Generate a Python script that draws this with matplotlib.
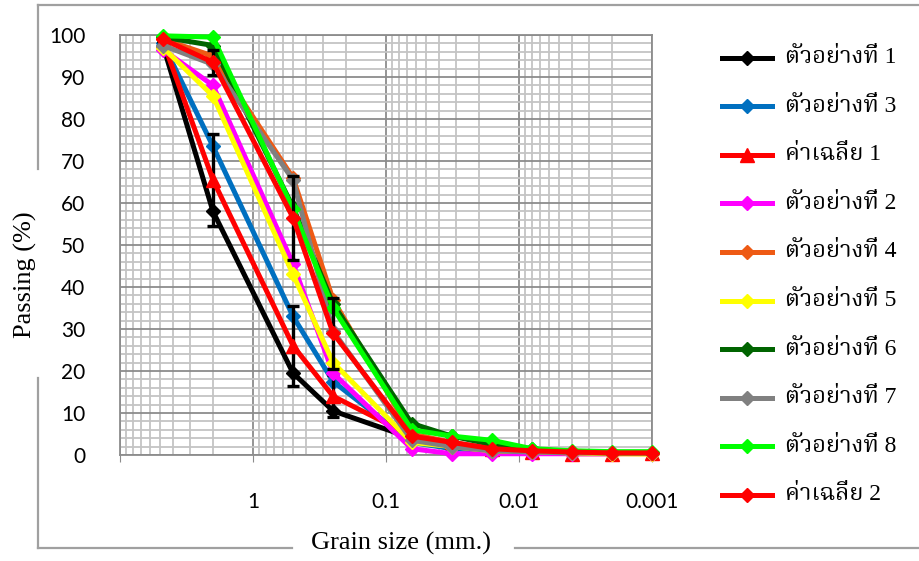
import matplotlib
matplotlib.use('Agg')
import matplotlib.pyplot as plt
from matplotlib import font_manager, ft2font
from matplotlib.lines import Line2D
from matplotlib.ticker import LogLocator, NullFormatter

# ---- data ----
grain = [4.75, 2.0, 0.5, 0.25, 0.064, 0.032, 0.016, 0.008, 0.004, 0.002, 0.001]

s1 = [97.5, 58.0, 19.5, 10.5, 4.0, 2.5, 1.5, 1.0, 0.7, 0.5, 0.5]
s3 = [98.0, 73.5, 33.0, 17.5, 3.0, 1.5, 1.0, 0.7, 0.5, 0.4, 0.4]
avg1 = [98.5, 65.5, 26.0, 14.0, 4.5, 3.0, 1.5, 0.8, 0.3, 0.3, 0.5]
s2 = [96.5, 88.0, 45.5, 19.5, 1.5, 0.3, 0.3, 0.3, 0.3, 0.3, 0.3]
s4 = [99.0, 95.0, 66.0, 37.0, 5.0, 3.0, 1.0, 0.8, 0.5, 0.5, 0.5]
s5 = [97.0, 85.5, 43.0, 22.0, 3.0, 2.0, 1.0, 0.8, 0.5, 0.3, 0.2]
s6 = [99.5, 97.5, 59.0, 36.0, 7.5, 4.5, 2.5, 1.5, 0.7, 0.5, 0.5]
s7 = [97.5, 93.0, 65.5, 29.5, 3.5, 2.0, 1.0, 0.7, 0.5, 0.5, 0.5]
s8 = [99.8, 99.5, 58.5, 35.0, 6.0, 4.5, 3.5, 1.5, 1.0, 0.8, 0.8]
avg2 = [99.0, 93.5, 56.5, 29.0, 4.5, 3.0, 1.5, 1.0, 0.7, 0.5, 0.5]

err1 = [0, 11.0, 9.5, 5.0, 0, 0, 0, 0, 0, 0, 0]
err2 = [0, 3.0, 10.0, 8.5, 0, 0, 0, 0, 0, 0, 0]

labels = ['ตัวอย่างที่ 1', 'ตัวอย่างที่ 3', 'ค่าเฉลี่ย 1', 'ตัวอย่างที่ 2', 'ตัวอย่างที่ 4',
          'ตัวอย่างที่ 5', 'ตัวอย่างที่ 6', 'ตัวอย่างที่ 7', 'ตัวอย่างที่ 8', 'ค่าเฉลี่ย 2']
series = [s1, s3, avg1, s2, s4, s5, s6, s7, s8, avg2]
colors = ['#000000', '#0070C0', '#FF0000', '#FF00FF', '#EE5A14',
          '#FFFF00', '#006400', '#808080', '#00FF00', '#FF0000']
markers = ['D', 'D', '^', 'D', 'D', 'D', 'D', 'D', 'D', 'D']
errors = {2: err1, 9: err2}

# ---- find a font with Thai glyphs ----
thai_fonts = []
for f in font_manager.fontManager.ttflist:
    try:
        cmap = ft2font.FT2Font(f.fname).get_charmap()
    except Exception:
        continue
    if 0x0E15 in cmap and 0x0E48 in cmap and f.name not in thai_fonts:
        thai_fonts.append(f.name)
pref = ['Laksaman', 'Norasi', 'Kinnari', 'Noto Serif Thai', 'TH Sarabun New', 'Garuda', 'Loma', 'Noto Sans Thai']
thai_fonts.sort(key=lambda n: pref.index(n) if n in pref else len(pref))
legend_family = ['Liberation Serif'] + thai_fonts[:1]

fig = plt.figure(figsize=(9.2, 5.61), dpi=100)
W, H = 920.0, 561.0
ax = fig.add_axes([120 / W, 1 - 455 / H, 532 / W, 420 / H])

for i, (ys, c, m) in enumerate(zip(series, colors, markers)):
    z = 3 + i
    if i in errors:
        ax.errorbar(grain, ys, yerr=errors[i], fmt='none', ecolor='black',
                    elinewidth=2.4, capsize=4.5, capthick=2.4, zorder=z - 0.5, clip_on=False)
    ms = 10 if m == '^' else 7.5
    ax.plot(grain, ys, color=c, lw=3.6, marker=m, ms=ms, mec=c, mfc=c,
            zorder=z, clip_on=False)

ax.set_xscale('log')
ax.set_xlim(10, 0.001)
ax.set_ylim(0, 100)
ax.set_xticks([10, 1, 0.1, 0.01, 0.001])
ax.set_xticklabels(['', '1', '0.1', '0.01', '0.001'])
ax.xaxis.set_minor_locator(LogLocator(base=10, subs=range(2, 10), numticks=20))
ax.xaxis.set_minor_formatter(NullFormatter())
ax.set_yticks(range(0, 101, 10))
ax.set_yticks(range(0, 101, 2), minor=True)

ax.set_axisbelow(True)
ax.grid(which='major', color='#8c8c8c', lw=1.3)
ax.grid(which='minor', color='#c4c4c4', lw=1.3)
for sp in ax.spines.values():
    sp.set_color('#8c8c8c')
    sp.set_linewidth(1.3)

tick_font = 'Lato'
ax.tick_params(axis='x', which='major', length=5, color='#8c8c8c', pad=22)
ax.tick_params(axis='y', which='major', length=0, pad=25)
ax.tick_params(which='minor', length=0)
for t in ax.get_xticklabels() + ax.get_yticklabels():
    t.set_fontfamily(tick_font)
    t.set_fontsize(15)

# outer frame of the chart area, broken where the axis titles sit
frame = [([38, 920], [5, 5]),
         ([38, 38], [5, 169]), ([38, 38], [378, 548]),
         ([38, 292], [548, 548]), ([515, 920], [548, 548])]
for xs, ys in frame:
    fig.add_artist(Line2D([v / W for v in xs], [1 - v / H for v in ys],
                          transform=fig.transFigure, color='#a0a0a0', lw=1.6))

fig.text(25 / W, 1 - 275 / H, 'Passing (%)', rotation=90, ha='center', va='center',
         family='Liberation Serif', fontsize=19)
fig.text(401 / W, 1 - 543 / H, 'Grain size (mm.)', ha='center', va='center',
         family='Liberation Serif', fontsize=19)

# legend on the right
for i, (lab, c, m) in enumerate(zip(labels, colors, markers)):
    y = 1 - (57.5 + i * 48.6) / H
    fig.add_artist(Line2D([722 / W, 772 / W], [y, y], transform=fig.transFigure,
                          color=c, lw=3.6))
    fig.add_artist(Line2D([747 / W], [y], transform=fig.transFigure, color=c,
                          marker=m, ms=10 if m == '^' else 7.5, mec=c, mfc=c))
    fig.text(785 / W, y, lab, ha='left', va='center', family=legend_family, fontsize=17)

fig.savefig('out.png', dpi=100)
